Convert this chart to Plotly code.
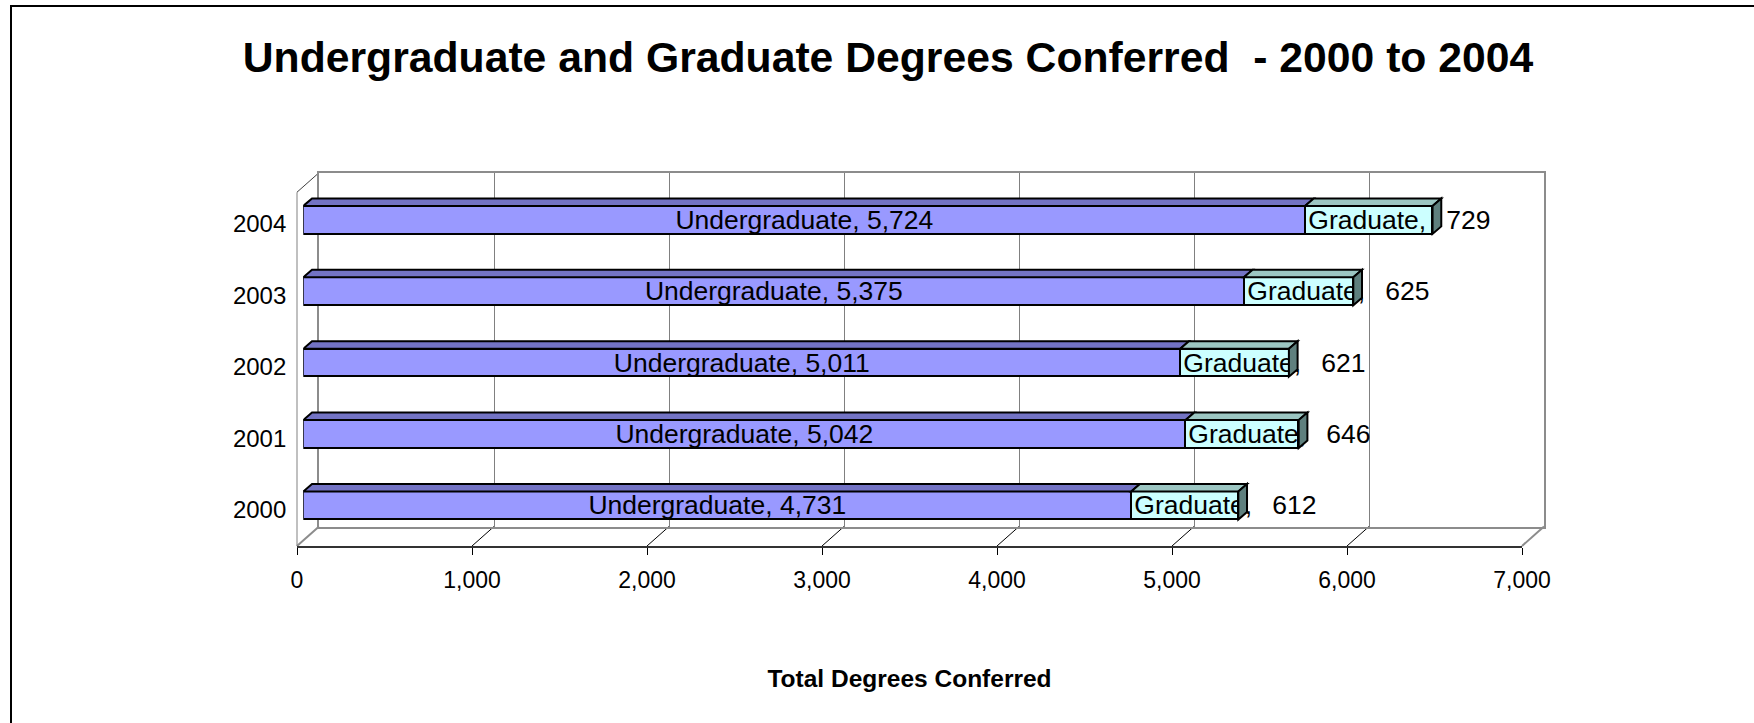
import plotly.graph_objects as go

# ---------------- data ----------------
years = ["2000", "2001", "2002", "2003", "2004"]
undergrad = [4731, 5042, 5011, 5375, 5724]
graduate = [612, 646, 621, 625, 729]
series_names = ["Undergraduate", "Graduate"]
x_ticks = [0, 1000, 2000, 3000, 4000, 5000, 6000, 7000]
chart_title = "Undergraduate and Graduate Degrees Conferred  - 2000 to 2004"
x_title = "Total Degrees Conferred"

# ---------------- geometry (pixels) ----------------
W, H = 1754, 723
FONT = "Liberation Sans"
X_MAX = 7000
PX_PER_UNIT = 0.175
FRONT_X0 = 297.0
FRONT_FLOOR_Y = 546.0
DEPTH_DX = 22.0
DEPTH_DY = 19.5
WALL_TOP_Y = 172.7
BAR_X0 = 303.3
BAR_TOP_Y = 184.2
BAR_BOTTOM_Y = 541.2
BAR_WIDTH = 0.392
FACE_DX_PX = 8.7
FACE_DY_PX = 7.5


def px(x):
    return x / W


def py(y):
    return 1 - y / H


AX_LEN = X_MAX * PX_PER_UNIT
ypos = list(range(len(years)))
cat_px = (BAR_BOTTOM_Y - BAR_TOP_Y) / len(years)
dxu = FACE_DX_PX / PX_PER_UNIT
dyu = FACE_DY_PX / cat_px

fig = go.Figure()

# empty traces to create the back-wall and front-axis subplots
fig.add_trace(go.Scatter(x=[], y=[], xaxis="x", yaxis="y", showlegend=False, hoverinfo="skip"))
fig.add_trace(go.Scatter(x=[], y=[], xaxis="x2", yaxis="y2", showlegend=False, hoverinfo="skip"))

u_text = [f"{series_names[0]}, {v:,}" for v in undergrad]
g_text = [f"{series_names[1]},\u00a0\u2009 {v:,}" for v in graduate]

fig.add_trace(go.Bar(
    y=ypos, x=undergrad, orientation="h", xaxis="x3", yaxis="y3",
    name=series_names[0], width=BAR_WIDTH,
    marker=dict(color="#9999FF", line=dict(color="#000000", width=2)),
    text=u_text, textposition="inside", insidetextanchor="middle",
    textangle=0, constraintext="none",
    textfont=dict(family=FONT, size=26.5, color="#000000"),
    hoverinfo="skip", showlegend=False,
))
fig.add_trace(go.Bar(
    y=ypos, x=graduate, orientation="h", xaxis="x3", yaxis="y3",
    name=series_names[1], width=BAR_WIDTH,
    marker=dict(color="#CCFFFF", line=dict(color="#000000", width=2)),
    text=g_text, textposition="inside", insidetextanchor="start",
    textangle=0, constraintext="none",
    textfont=dict(family=FONT, size=26.5, color="#000000"),
    hoverinfo="skip", showlegend=False,
))

shapes = []
# 3D faces of the bars (data coordinates)
for i, (u, g) in enumerate(zip(undergrad, graduate)):
    t = u + g
    yt = ypos[i] + BAR_WIDTH / 2
    yb = ypos[i] - BAR_WIDTH / 2
    shapes.append(dict(
        type="path", xref="x3", yref="y3", layer="above",
        path=f"M 0,{yt} L {u},{yt} L {u + dxu},{yt + dyu} L {dxu},{yt + dyu} Z",
        fillcolor="#7373C4", line=dict(color="#000000", width=2)))
    shapes.append(dict(
        type="path", xref="x3", yref="y3", layer="above",
        path=f"M {u},{yt} L {t},{yt} L {t + dxu},{yt + dyu} L {u + dxu},{yt + dyu} Z",
        fillcolor="#9CC6C2", line=dict(color="#000000", width=2)))
    shapes.append(dict(
        type="path", xref="x3", yref="y3", layer="above",
        path=f"M {t},{yb} L {t},{yt} L {t + dxu},{yt + dyu} L {t + dxu},{yb + dyu} Z",
        fillcolor="#5F807E", line=dict(color="#000000", width=2)))

# walls / floor frame
back_floor_y = FRONT_FLOOR_Y - DEPTH_DY
shapes.append(dict(type="line", xref="paper", yref="paper", layer="below",
                   x0=px(FRONT_X0), y0=py(FRONT_FLOOR_Y), x1=px(FRONT_X0), y1=py(WALL_TOP_Y + DEPTH_DY),
                   line=dict(color="#C0C0C0", width=2)))
shapes.append(dict(type="line", xref="paper", yref="paper", layer="below",
                   x0=px(FRONT_X0), y0=py(WALL_TOP_Y + DEPTH_DY), x1=px(FRONT_X0 + DEPTH_DX), y1=py(WALL_TOP_Y),
                   line=dict(color="#404040", width=1)))
for v in x_ticks:
    xf = FRONT_X0 + v * PX_PER_UNIT
    edge = v in (x_ticks[0], x_ticks[-1])
    shapes.append(dict(type="line", xref="paper", yref="paper", layer="below",
                       x0=px(xf), y0=py(FRONT_FLOOR_Y), x1=px(xf + DEPTH_DX), y1=py(back_floor_y),
                       line=dict(color="#8C8C8C" if edge else "#000000", width=2 if edge else 1)))
# outer chart border
shapes.append(dict(type="rect", xref="paper", yref="paper", layer="below",
                   x0=px(11), y0=py(H + 20), x1=px(W + 20), y1=py(6),
                   line=dict(color="#000000", width=2), fillcolor="rgba(0,0,0,0)"))

fig.update_layout(
    width=W, height=H,
    margin=dict(l=0, r=0, t=0, b=0, autoexpand=False),
    paper_bgcolor="#FFFFFF", plot_bgcolor="rgba(0,0,0,0)",
    barmode="stack", bargap=0,
    font=dict(family=FONT, color="#000000"),
    title=dict(text=chart_title, x=px(888), xanchor="center", y=py(57), yanchor="middle",
               font=dict(family=FONT, size=42.7, weight="bold", color="#000000")),
    # back wall
    xaxis=dict(domain=[px(FRONT_X0 + DEPTH_DX), px(FRONT_X0 + DEPTH_DX + AX_LEN)], range=[0, X_MAX],
               anchor="y", showgrid=True, gridcolor="#808080", gridwidth=1, tickvals=x_ticks,
               showticklabels=False, ticks="", zeroline=False,
               showline=True, mirror=True, linecolor="#8C8C8C", linewidth=2, fixedrange=True),
    yaxis=dict(domain=[py(back_floor_y), py(WALL_TOP_Y)], range=[0, 1], anchor="x",
               showgrid=False, showticklabels=False, ticks="", zeroline=False,
               showline=True, mirror=True, linecolor="#8C8C8C", linewidth=2, fixedrange=True),
    # front value axis
    xaxis2=dict(domain=[px(FRONT_X0), px(FRONT_X0 + AX_LEN)], range=[0, X_MAX], anchor="y2",
                tickvals=x_ticks, tickformat=",d", ticks="outside", ticklen=7, tickcolor="#000000",
                tickwidth=1, showline=True, linecolor="#333333", linewidth=1.5,
                showgrid=False, zeroline=False, ticklabelstandoff=6,
                tickfont=dict(family=FONT, size=23, color="#000000"),
                title=dict(text=x_title, standoff=78,
                           font=dict(family=FONT, size=24.5, weight="bold", color="#000000")),
                automargin=False, fixedrange=True),
    yaxis2=dict(domain=[py(FRONT_FLOOR_Y), py(FRONT_FLOOR_Y) + 0.01], anchor="x2", visible=False,
                fixedrange=True),
    # bars
    xaxis3=dict(domain=[px(BAR_X0), px(BAR_X0 + AX_LEN)], range=[0, X_MAX], anchor="y3",
                visible=False, fixedrange=True),
    yaxis3=dict(domain=[py(BAR_BOTTOM_Y), py(BAR_TOP_Y)], range=[-0.5, len(years) - 0.5], anchor="x3",
                tickvals=ypos, ticktext=years, ticks="", showgrid=False, zeroline=False,
                showline=False, ticklabelstandoff=16, ticklabelshift=4,
                tickfont=dict(family=FONT, size=24, color="#000000"),
                automargin=False, fixedrange=True),
    shapes=shapes,
    showlegend=False,
)

fig.write_html("out.html", config={"displayModeBar": False},
               post_script="document.body.style.margin='0';document.body.style.overflow='hidden';")
